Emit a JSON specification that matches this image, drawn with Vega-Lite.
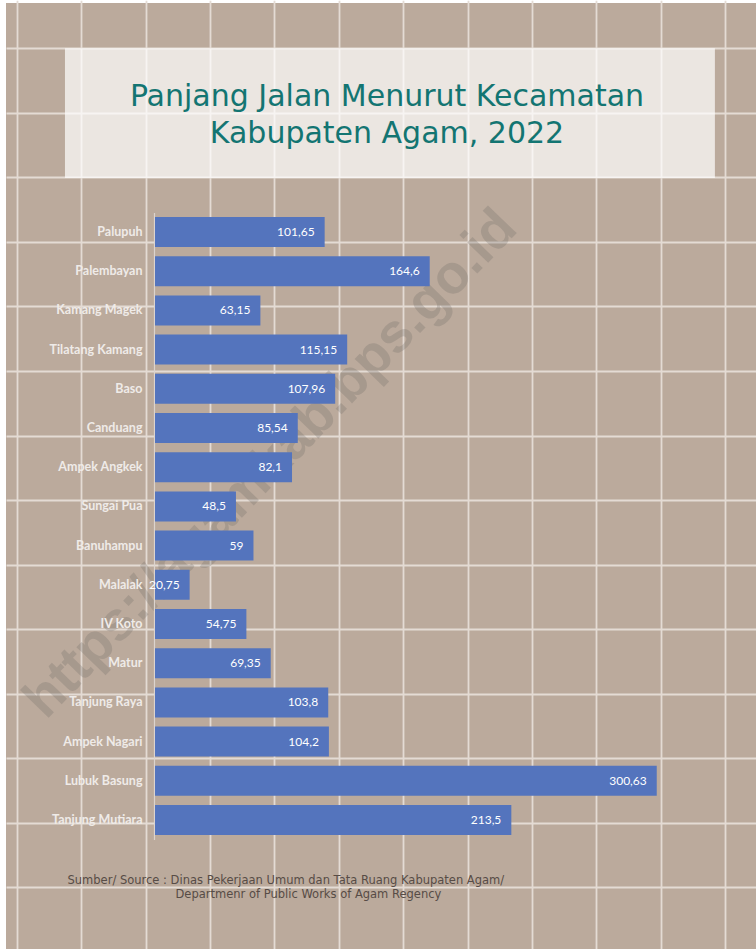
{
  "$schema": "https://vega.github.io/schema/vega-lite/v6.json",
  "width": 750,
  "height": 946,
  "autosize": {"type": "none"},
  "padding": {"left": 6, "top": 3, "right": 0, "bottom": 0},
  "background": "#ffffff",
  "title": {
    "text": ["Panjang Jalan Menurut Kecamatan", "Kabupaten Agam, 2022"],
    "font": "DejaVu Sans",
    "fontSize": 30,
    "fontWeight": "normal",
    "color": "#137572",
    "anchor": "middle",
    "frame": "group",
    "baseline": "alphabetic",
    "lineHeight": 37,
    "offset": -170,
    "dx": 6
  },
  "config": {
    "view": {"fill": "#bbaa9c", "stroke": null},
    "locale": {"number": {"decimal": ",", "thousands": ".", "grouping": [3], "currency": ["Rp", ""]}}
  },
  "resolve": {"scale": {"x": "independent", "y": "independent"}, "axis": {"x": "independent", "y": "independent"}},
  "layer": [
    {
      "data": {"values": [{}]},
      "mark": {"type": "rect", "fill": "#ffffff", "opacity": 0.7},
      "encoding": {
        "x": {
          "datum": 0.748,
          "type": "quantitative",
          "scale": {"domain": [-0.1677, 12], "range": [0, 783.6], "nice": false, "zero": false},
          "axis": {
            "orient": "bottom",
            "values": [0, 1, 2, 3, 4, 5, 6, 7, 8, 9, 10, 11],
            "grid": true,
            "gridColor": "#e4dbd4",
            "gridWidth": 1.8,
            "labels": false,
            "ticks": false,
            "domain": false,
            "zindex": 0,
            "title": "Departmenr of Public Works of Agam Regency",
            "titleX": 169,
            "titleY": -52,
            "titleAlign": "left",
            "titleAnchor": null,
            "titleBaseline": "alphabetic",
            "titleFont": "DejaVu Sans",
            "titleFontSize": 11.5,
            "titleFontWeight": "normal",
            "titleColor": "#574c46"
          }
        },
        "x2": {"datum": 10.84},
        "y": {
          "datum": 0,
          "type": "quantitative",
          "scale": {"domain": [-0.7019, 14], "range": [0, 948.86], "nice": false, "zero": false},
          "axis": {
            "orient": "left",
            "values": [0, 1, 2, 3, 4, 5, 6, 7, 8, 9, 10, 11, 12, 13, 14],
            "grid": true,
            "gridColor": "#e4dbd4",
            "gridWidth": 1.8,
            "labels": false,
            "ticks": false,
            "domain": false,
            "zindex": 0,
            "title": "https://agamkab.bps.go.id",
            "titleX": 264,
            "titleY": 460,
            "titleAngle": -46,
            "titleAlign": "center",
            "titleAnchor": null,
            "titleBaseline": "middle",
            "titleFont": "Liberation Sans",
            "titleFontSize": 55,
            "titleFontWeight": "bold",
            "titleColor": "#6e6864",
            "titleOpacity": 0.26
          }
        },
        "y2": {"datum": 2.01}
      }
    },
    {
      "data": {
        "values": [
          {"kecamatan": "Palupuh", "panjang": 101.65},
          {"kecamatan": "Palembayan", "panjang": 164.6},
          {"kecamatan": "Kamang Magek", "panjang": 63.15},
          {"kecamatan": "Tilatang Kamang", "panjang": 115.15},
          {"kecamatan": "Baso", "panjang": 107.96},
          {"kecamatan": "Canduang", "panjang": 85.54},
          {"kecamatan": "Ampek Angkek", "panjang": 82.1},
          {"kecamatan": "Sungai Pua", "panjang": 48.5},
          {"kecamatan": "Banuhampu", "panjang": 59},
          {"kecamatan": "Malalak", "panjang": 20.75},
          {"kecamatan": "IV Koto", "panjang": 54.75},
          {"kecamatan": "Matur", "panjang": 69.35},
          {"kecamatan": "Tanjung Raya", "panjang": 103.8},
          {"kecamatan": "Ampek Nagari", "panjang": 104.2},
          {"kecamatan": "Lubuk Basung", "panjang": 300.63},
          {"kecamatan": "Tanjung Mutiara", "panjang": 213.5}
        ]
      },
      "encoding": {
        "y": {
          "field": "kecamatan",
          "type": "nominal",
          "sort": null,
          "scale": {"range": [209.4, 836.6], "paddingInner": 0.235, "paddingOuter": 0.1175},
          "axis": {
            "orient": "left",
            "offset": -148,
            "title": null,
            "grid": false,
            "ticks": false,
            "tickSize": 0,
            "domain": true,
            "domainColor": "#dcd4ce",
            "domainWidth": 1.2,
            "labelPadding": 12,
            "labelFont": "Lato",
            "labelFontSize": 12.5,
            "labelFontWeight": "bold",
            "labelColor": "#efebe8"
          }
        },
        "x": {
          "field": "panjang",
          "type": "quantitative",
          "scale": {"domain": [0, 350], "range": [149, 733.15], "nice": false},
          "axis": {
            "orient": "bottom",
            "grid": false,
            "labels": false,
            "ticks": false,
            "domain": false,
            "title": "Sumber/ Source : Dinas Pekerjaan Umum dan Tata Ruang Kabupaten Agam/",
            "titleX": 61,
            "titleY": -66,
            "titleAlign": "left",
            "titleAnchor": null,
            "titleBaseline": "alphabetic",
            "titleFont": "DejaVu Sans",
            "titleFontSize": 11.5,
            "titleFontWeight": "normal",
            "titleColor": "#574c46"
          }
        }
      },
      "layer": [
        {"mark": {"type": "bar", "color": "#5474bd"}},
        {
          "mark": {"type": "text", "align": "right", "baseline": "middle", "dx": -10, "color": "#ffffff", "font": "Lato", "fontSize": 12},
          "encoding": {"text": {"field": "panjang", "type": "quantitative", "format": ".2~f"}}
        }
      ]
    }
  ]
}
